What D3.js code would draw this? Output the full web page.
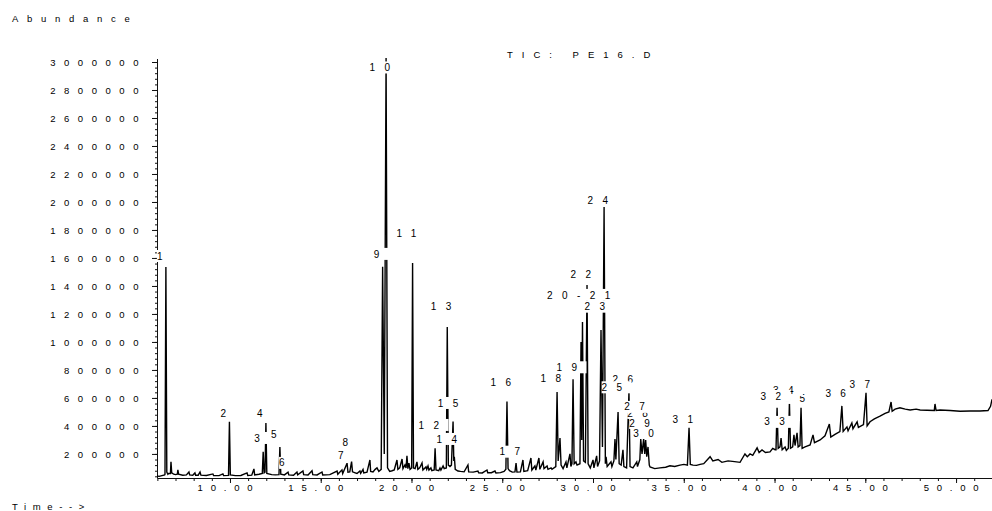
<!DOCTYPE html>
<html>
<head>
<meta charset="UTF-8">
<title>TIC: PE16.D</title>
<script src="https://d3js.org/d3.v7.min.js"></script>
<style>
  body { margin: 0; background: #fff; }
  svg text { font-family: "Liberation Sans", Arial, sans-serif; fill: #000; }
</style>
</head>
<body>
<div id="chart"></div>
<script>
// abundance axis labels and time axis labels
var yTickValues = [200000, 400000, 600000, 800000, 1000000, 1200000, 1400000, 1600000,
                   1800000, 2000000, 2200000, 2400000, 2600000, 2800000, 3000000];
var xTickValues = [10, 15, 20, 25, 30, 35, 40, 45, 50];

// total ion chromatogram, [time (min), abundance]
var ticTrace = [
  [5.98, 42000], [6.10, 40000], [6.25, 45000], [6.40, 50000], [6.42, 55000], [6.47, 1536000], [6.52, 70000],
  [6.58, 55000], [6.62, 60000], [6.72, 60000], [6.75, 143000], [6.79, 65000], [6.90, 55000], [7.00, 52000],
  [7.10, 55000], [7.13, 86000], [7.17, 55000], [7.40, 48000], [7.60, 50000], [7.74, 71000], [7.78, 50000],
  [7.95, 47000], [8.07, 64000], [8.11, 48000], [8.25, 48000], [8.35, 71000], [8.40, 48000], [8.70, 46000],
  [9.06, 57000], [9.10, 46000], [9.40, 45000], [9.61, 57000], [9.65, 45000], [9.92, 47000], [9.97, 429000],
  [10.02, 50000], [10.30, 45000], [10.60, 46000], [10.94, 64000], [10.98, 46000], [11.20, 48000], [11.32, 93000],
  [11.36, 50000], [11.60, 55000], [11.78, 60000], [11.83, 216000], [11.88, 65000], [11.93, 70000], [11.98, 421000],
  [12.03, 60000], [12.30, 52000], [12.50, 50000], [12.70, 52000], [12.75, 250000], [12.80, 55000], [13.00, 50000],
  [13.20, 70000], [13.24, 50000], [13.50, 48000], [13.69, 71000], [13.73, 50000], [14.02, 78000], [14.06, 52000],
  [14.30, 50000], [14.52, 80000], [14.56, 52000], [14.80, 50000], [15.07, 71000], [15.11, 50000], [15.50, 52000],
  [15.90, 78000], [15.94, 55000], [16.17, 86000], [16.21, 60000], [16.45, 134000], [16.50, 70000], [16.60, 72000],
  [16.70, 145000], [16.75, 72000], [16.90, 65000], [17.00, 60000], [17.16, 78000], [17.20, 62000], [17.33, 90000],
  [17.37, 65000], [17.55, 70000], [17.71, 157000], [17.75, 75000], [17.88, 71000], [18.00, 90000], [18.10, 100000],
  [18.20, 75000], [18.33, 90000], [18.41, 1538000], [18.50, 200000], [18.60, 3029000], [18.68, 100000], [18.80, 75000],
  [18.93, 80000], [19.05, 85000], [19.20, 157000], [19.25, 90000], [19.35, 100000], [19.48, 164000], [19.53, 95000],
  [19.64, 121000], [19.70, 100000], [19.75, 186000], [19.80, 95000], [19.86, 135000], [19.92, 90000], [20.01, 100000],
  [20.06, 1564000], [20.11, 100000], [20.20, 95000], [20.30, 143000], [20.35, 90000], [20.45, 100000], [20.58, 136000],
  [20.63, 85000], [20.80, 107000], [20.84, 90000], [20.91, 114000], [20.96, 85000], [21.07, 100000], [21.12, 80000],
  [21.25, 85000], [21.30, 241000], [21.35, 85000], [21.50, 80000], [21.57, 100000], [21.62, 85000], [21.74, 114000],
  [21.80, 95000], [21.92, 100000], [21.97, 1107000], [22.03, 120000], [22.12, 110000], [22.20, 120000], [22.29, 431000],
  [22.33, 150000], [22.36, 180000], [22.41, 90000], [22.56, 78000], [22.70, 75000], [22.90, 72000], [23.11, 121000],
  [23.15, 72000], [23.40, 70000], [23.66, 78000], [23.70, 65000], [23.90, 64000], [24.16, 85000], [24.20, 66000],
  [24.40, 66000], [24.60, 78000], [24.65, 64000], [24.90, 66000], [25.10, 75000], [25.20, 90000], [25.26, 574000],
  [25.32, 95000], [25.40, 80000], [25.55, 70000], [25.70, 72000], [25.76, 134000], [25.81, 70000], [26.00, 72000],
  [26.14, 157000], [26.19, 75000], [26.40, 80000], [26.58, 171000], [26.63, 85000], [26.80, 114000], [26.85, 85000],
  [27.02, 171000], [27.07, 90000], [27.25, 143000], [27.30, 95000], [27.47, 114000], [27.52, 90000], [27.69, 100000],
  [27.74, 90000], [27.95, 110000], [28.02, 643000], [28.08, 150000], [28.18, 314000], [28.24, 120000], [28.35, 95000],
  [28.51, 143000], [28.56, 100000], [28.73, 200000], [28.78, 110000], [28.84, 130000], [28.90, 734000], [28.96, 130000],
  [29.06, 143000], [29.12, 120000], [29.28, 130000], [29.34, 1000000], [29.38, 300000], [29.42, 1143000], [29.48, 150000],
  [29.58, 140000], [29.67, 1407000], [29.73, 130000], [29.85, 100000], [30.00, 157000], [30.05, 100000], [30.20, 186000],
  [30.25, 110000], [30.36, 150000], [30.44, 1086000], [30.52, 250000], [30.61, 1964000], [30.68, 130000], [30.72, 180000],
  [30.78, 110000], [30.99, 143000], [31.04, 110000], [31.15, 150000], [31.21, 307000], [31.26, 160000], [31.38, 500000],
  [31.44, 130000], [31.55, 120000], [31.65, 229000], [31.70, 110000], [31.85, 100000], [31.98, 643000], [32.04, 110000],
  [32.20, 100000], [32.41, 143000], [32.45, 110000], [32.58, 160000], [32.63, 307000], [32.70, 200000], [32.79, 307000],
  [32.85, 200000], [32.90, 300000], [32.96, 180000], [33.03, 250000], [33.10, 120000], [33.14, 107000], [33.40, 95000],
  [33.69, 100000], [34.00, 105000], [34.24, 115000], [34.50, 110000], [34.79, 120000], [35.01, 125000], [35.20, 120000],
  [35.29, 386000], [35.36, 125000], [35.51, 120000], [35.70, 118000], [35.90, 125000], [36.10, 130000], [36.45, 180000],
  [36.60, 150000], [36.89, 160000], [37.10, 140000], [37.44, 150000], [37.80, 145000], [38.10, 140000], [38.37, 200000],
  [38.50, 180000], [38.65, 200000], [38.80, 190000], [39.04, 243000], [39.15, 210000], [39.31, 229000], [39.50, 210000],
  [39.75, 214000], [39.90, 240000], [40.03, 230000], [40.08, 230000], [40.14, 529000], [40.20, 240000], [40.30, 250000],
  [40.36, 314000], [40.42, 230000], [40.58, 250000], [40.65, 225000], [40.76, 240000], [40.82, 571000], [40.88, 240000],
  [41.00, 250000], [41.07, 336000], [41.13, 260000], [41.24, 350000], [41.30, 250000], [41.40, 260000], [41.46, 529000],
  [41.52, 240000], [41.68, 250000], [41.96, 264000], [42.12, 336000], [42.20, 280000], [42.51, 300000], [42.78, 330000],
  [43.02, 414000], [43.10, 320000], [43.33, 340000], [43.60, 360000], [43.71, 543000], [43.78, 360000], [43.99, 393000],
  [44.05, 365000], [44.26, 421000], [44.32, 380000], [44.55, 429000], [44.62, 390000], [44.90, 410000], [45.04, 636000],
  [45.10, 400000], [45.26, 430000], [45.50, 450000], [45.81, 470000], [46.09, 490000], [46.30, 500000], [46.42, 571000],
  [46.48, 505000], [46.64, 520000], [46.91, 530000], [47.20, 520000], [47.47, 514000], [47.80, 520000], [48.02, 514000],
  [48.40, 512000], [48.80, 510000], [48.84, 557000], [48.90, 510000], [49.12, 514000], [49.67, 510000], [50.22, 505000],
  [50.77, 507000], [51.32, 507000], [51.76, 510000], [51.90, 540000], [51.98, 590000]
];

// peak numbers: [text, time, abundance where the number sits]
var peakLabels = [
  ["1", 6.47, 1614000], ["2", 9.97, 486000], ["3", 11.83, 314000], ["4", 11.98, 493000],
  ["5", 12.75, 336000], ["6", 13.20, 136000], ["7", 16.45, 193000], ["8", 16.70, 279000],
  ["9", 18.41, 1629000], ["10", 18.60, 2961000], ["11", 20.06, 1779000], ["12", 21.30, 407000],
  ["13", 21.97, 1252000], ["14", 22.29, 307000], ["15", 22.36, 564000], ["16", 25.26, 714000],
  ["17", 25.76, 216000], ["18", 28.02, 741000], ["19", 28.90, 819000], ["20-21", 29.55, 1336000],
  ["22", 29.67, 1484000], ["23", 30.44, 1252000], ["24", 30.61, 2014000], ["25", 31.38, 676000],
  ["26", 31.98, 734000], ["27", 32.63, 536000], ["28", 32.79, 493000], ["29", 32.90, 421000],
  ["30", 33.12, 350000], ["31", 35.29, 450000], ["32", 40.14, 614000], ["33", 40.34, 429000],
  ["34", 40.82, 657000], ["35", 41.46, 600000], ["36", 43.71, 629000], ["37", 45.04, 700000]
];

var svgW = 992, svgH = 511;
var axisY = 478, axisX = 157;

var x = d3.scaleLinear().domain([5.98, 51.98]).range([axisX, 992]);
var y = d3.scaleLinear().domain([28000, 3000000]).range([axisY, 62]);

var svg = d3.select("#chart").append("svg")
    .attr("width", svgW)
    .attr("height", svgH)
    .style("display", "block");

// header texts
svg.append("text")
    .attr("x", 12).attr("y", 21.5)
    .style("font-size", "9.5px").style("letter-spacing", "8.7px")
    .text("Abundance");

svg.append("text")
    .attr("x", 507).attr("y", 58)
    .style("font-size", "9.5px").style("letter-spacing", "9px")
    .text("TIC: PE16.D");

svg.append("text")
    .attr("x", 12).attr("y", 509.5)
    .style("font-size", "9.5px").style("letter-spacing", "6.6px")
    .text("Time-->");

// y axis: minor ticks then labelled ticks
var yMinor = d3.range(40000, 3000001, 40000);
svg.append("g")
    .attr("transform", "translate(" + axisX + ",0)")
    .call(d3.axisLeft(y).tickValues(yMinor).tickSize(2).tickSizeOuter(0).tickFormat(""))
    .call(function (g) { g.select(".domain").remove(); });

var yAxis = svg.append("g")
    .attr("transform", "translate(" + axisX + ",0)")
    .call(d3.axisLeft(y).tickValues(yTickValues).tickSize(5).tickSizeOuter(0).tickFormat(d3.format("d")));
yAxis.select(".domain").attr("d", "M0.5," + 59 + "V" + axisY);
yAxis.selectAll("text")
    .attr("x", -10).attr("dy", null).attr("y", 3.4)
    .style("font-size", "9.5px").style("letter-spacing", "8.55px")
    .style("font-family", "Liberation Sans, Arial, sans-serif").attr("fill", "#000");

// x axis: one tick per minute, labels every five
var xMinor = d3.range(6, 52, 1);
svg.append("g")
    .attr("transform", "translate(0," + axisY + ")")
    .call(d3.axisBottom(x).tickValues(xMinor).tickSize(3).tickSizeOuter(0).tickFormat(""))
    .call(function (g) { g.select(".domain").remove(); });

var xAxis = svg.append("g")
    .attr("transform", "translate(0," + axisY + ")")
    .call(d3.axisBottom(x).tickValues(xTickValues).tickSize(5).tickSizeOuter(0).tickFormat(d3.format(".2f")));
xAxis.selectAll("text")
    .attr("x", -1.5).attr("dy", null).attr("y", 13.4)
    .style("font-size", "9.5px").style("letter-spacing", "7.8px")
    .style("font-family", "Liberation Sans, Arial, sans-serif").attr("fill", "#000");

svg.selectAll(".domain, .tick line").attr("stroke", "#111");

// the chromatogram
var line = d3.line()
    .x(function (d) { return x(d[0]); })
    .y(function (d) { return y(d[1]); });

svg.append("path")
    .datum(ticTrace)
    .attr("d", line)
    .attr("fill", "none")
    .attr("stroke", "#000")
    .attr("stroke-width", 1.4)
    .attr("stroke-linejoin", "miter");

// peak numbers on white boxes, later peaks drawn first
var labelGroup = svg.append("g");
peakLabels.slice().reverse().forEach(function (p) {
    var g = labelGroup.append("g");
    var cy = y(p[2]);
    var t = g.append("text")
        .attr("x", x(p[1]) - 1.5)
        .attr("y", cy + 3.6)
        .attr("text-anchor", "middle")
        .style("font-size", "10px")
        .style("letter-spacing", "9.4px")
        .text(p[0]);
    var bb = t.node().getBBox();
    g.insert("rect", "text")
        .attr("x", bb.x)
        .attr("y", cy - 6)
        .attr("width", bb.width)
        .attr("height", 12)
        .attr("fill", "#fff");
});
</script>
</body>
</html>
